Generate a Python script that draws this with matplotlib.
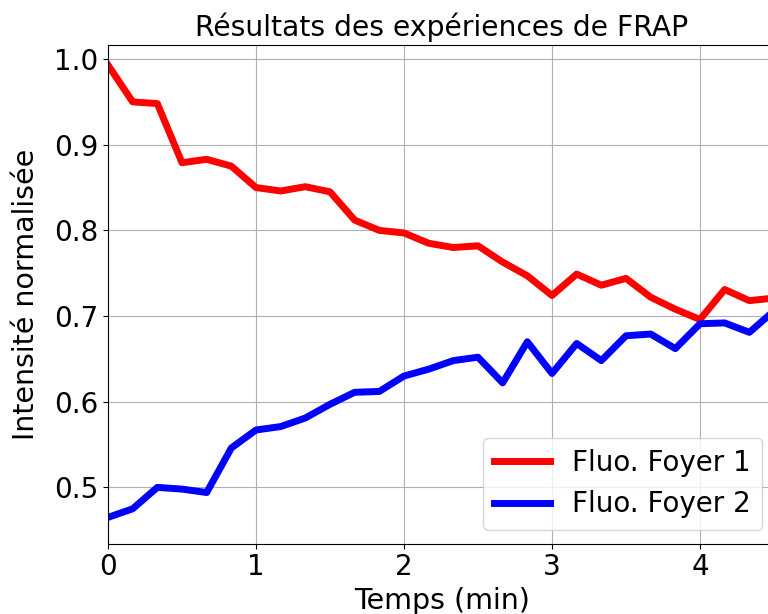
import matplotlib
matplotlib.use("Agg")
import matplotlib.pyplot as plt
import numpy as np

# temps en minutes, un point toutes les 10 s
temps = np.arange(28) / 6.0

foyer1 = [0.993, 0.950, 0.948, 0.879, 0.883, 0.875, 0.850, 0.846, 0.851, 0.845,
          0.812, 0.800, 0.797, 0.785, 0.780, 0.782, 0.763, 0.747, 0.724, 0.749,
          0.736, 0.744, 0.722, 0.708, 0.696, 0.731, 0.718, 0.721]
foyer2 = [0.465, 0.475, 0.500, 0.498, 0.494, 0.546, 0.567, 0.571, 0.581, 0.597,
          0.611, 0.612, 0.630, 0.638, 0.648, 0.652, 0.622, 0.670, 0.633, 0.668,
          0.648, 0.677, 0.679, 0.662, 0.691, 0.692, 0.681, 0.706]

plt.rcParams['font.size'] = 20

fig = plt.figure(figsize=(7.68, 6.14), dpi=100)
# les axes debordent a droite comme sur l'original
ax = fig.add_axes([108 / 768, 70.5 / 614, 668 / 768, 499 / 614])

ax.plot(temps, foyer1, color='red', lw=5, label='Fluo. Foyer 1')
ax.plot(temps, foyer2, color='blue', lw=5, label='Fluo. Foyer 2')

ax.set_xlim(0, 668 / 148)
ax.set_ylim(0.4345, 1.017)
ax.set_xticks([0, 1, 2, 3, 4])
ax.set_yticks([0.5, 0.6, 0.7, 0.8, 0.9, 1.0])
ax.grid(True)

ax.set_title('Résultats des expériences de FRAP', fontsize=20.3)
ax.set_xlabel('Temps (min)', fontsize=20.5)
ax.set_ylabel('Intensité normalisée', fontsize=20.5, labelpad=10)
ax.legend(loc='lower right', fontsize=20)

fig.savefig('out.png', dpi=100)
